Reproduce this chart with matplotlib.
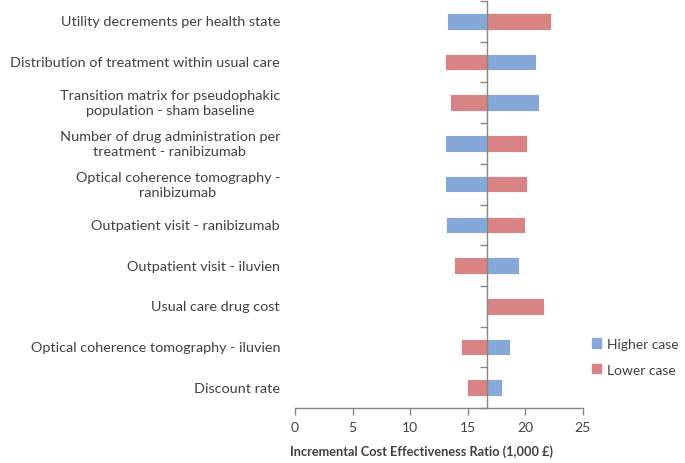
import matplotlib.pyplot as plt
import matplotlib.transforms as mtransforms
import numpy as np
from matplotlib.patches import Patch

# Data (ICER, 1,000 £)
labels = [
    "Utility decrements per health state",
    "Distribution of treatment within usual care",
    "Transition matrix for pseudophakic\npopulation - sham baseline",
    "Number of drug administration per\ntreatment - ranibizumab",
    "Optical coherence tomography -\nranibizumab",
    "Outpatient visit - ranibizumab",
    "Outpatient visit - iluvien",
    "Usual care drug cost",
    "Optical coherence tomography - iluvien",
    "Discount rate",
]
baseline = 16.65
higher_case = [13.23, 20.94, 21.23, 13.06, 13.06, 13.15, 19.46, 16.65, 18.70, 17.96]
lower_case = [22.24, 13.06, 13.50, 20.20, 20.20, 20.00, 13.78, 21.66, 14.45, 14.92]

blue = '#86A8D8'
red = '#D98484'
grey = '#868686'
txt = '#404040'

plt.rcParams['font.family'] = ['Lato', 'DejaVu Sans']

fig = plt.figure(figsize=(6.85, 4.64), dpi=100)
ax = fig.add_axes([0.4307, 0.1185, 0.42, 0.8772])

y = np.arange(len(labels))
high = np.array(higher_case)
low = np.array(lower_case)
ax.barh(y, high - baseline, left=baseline, height=0.41, color=blue,
        edgecolor='white', linewidth=0.6, zorder=2)
ax.barh(y, low - baseline, left=baseline, height=0.41, color=red,
        edgecolor='white', linewidth=0.6, zorder=2)

ax.set_xlim(0, 25)
ax.set_ylim(len(labels) - 0.5, -0.5)
ax.set_xticks(np.arange(0, 26, 5))

# vertical axis crosses at the baseline value
ax.spines['left'].set_position(('data', baseline))
ax.spines['right'].set_visible(False)
ax.spines['top'].set_visible(False)
for s in ['left', 'bottom']:
    ax.spines[s].set_color(grey)
    ax.spines[s].set_linewidth(1.0)
    ax.spines[s].set_zorder(3)
ax.set_yticks(np.arange(len(labels) + 1) - 0.5)
ax.set_yticklabels([])
ax.tick_params(axis='y', length=5, color=grey, width=1)
ax.tick_params(axis='x', length=5, color=grey, width=1, labelsize=10,
               labelcolor=txt, pad=4)

# category labels to the left of the plot area
trans = mtransforms.blended_transform_factory(ax.transAxes, ax.transData)
for yi, lab in zip(y, labels):
    ax.text(-0.052, yi, lab, transform=trans, ha='right', va='center',
            multialignment='center', fontsize=10.4, color=txt,
            linespacing=1.3)

fig.text(0.615, 0.026, 'Incremental Cost Effectiveness Ratio (1,000 £)',
         ha='center', va='center', fontsize=9.2, fontweight='bold', color=txt)

handles = [Patch(color=blue, label='Higher case'),
           Patch(color=red, label='Lower case')]
fig.legend(handles=handles, loc='center left', bbox_to_anchor=(0.846, 0.229),
           frameon=False, fontsize=10, handlelength=0.65, handleheight=0.65,
           handletextpad=0.45, labelspacing=1.0, labelcolor=txt)

fig.savefig('out.png', dpi=100)
